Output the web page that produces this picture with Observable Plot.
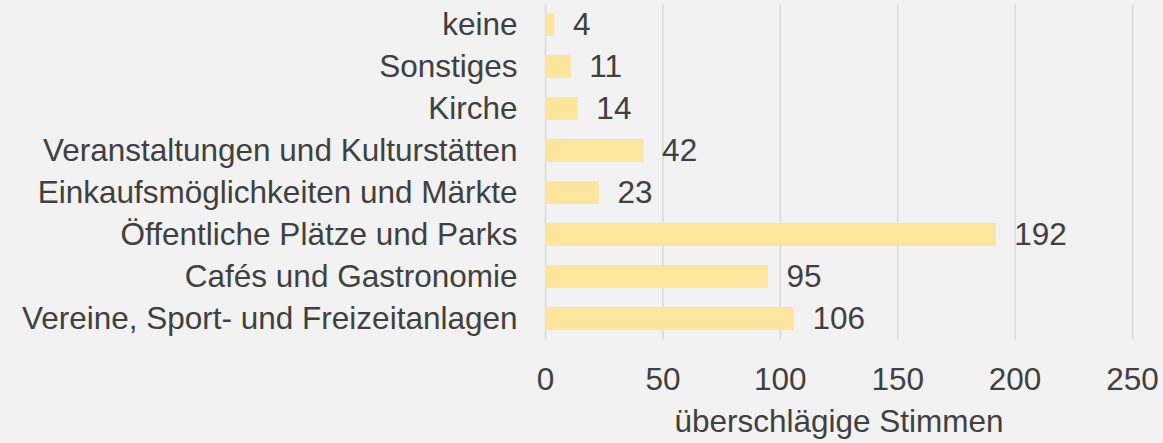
<!DOCTYPE html>
<html><head><meta charset="utf-8">
<script src="https://cdn.jsdelivr.net/npm/d3@7"></script>
<script src="https://cdn.jsdelivr.net/npm/@observablehq/plot@0.6"></script>
<style>
html,body{margin:0;padding:0;background:#f2f2f2;}
#chart svg{display:block;}
#chart svg, #chart svg text{font-family:"Liberation Sans", Arimo, Arial, sans-serif !important;}
</style>
</head><body><div id="chart"></div>
<script>
const categories = ["keine","Sonstiges","Kirche","Veranstaltungen und Kulturstätten","Einkaufsmöglichkeiten und Märkte","Öffentliche Plätze und Parks","Cafés und Gastronomie","Vereine, Sport- und Freizeitanlagen"];
const votes = [4, 11, 14, 42, 23, 192, 95, 106];
const xTicks = [0, 50, 100, 150, 200, 250];
const xLabel = "überschlägige Stimmen";

const data = categories.map((c, i) => ({category: c, value: votes[i]}));
const FS = 31.5;

const chart = Plot.plot({
  width: 1163,
  height: 443,
  marginLeft: 545,
  marginRight: 31,
  marginTop: 4,
  marginBottom: 103,
  style: {background: "#f2f2f2", fontSize: FS + "px", color: "#404040"},
  x: {domain: [0, 250], ticks: xTicks, grid: false},
  y: {domain: categories, paddingInner: 0.45, paddingOuter: 0.225, align: 0.5},
  marks: [
    Plot.gridX(xTicks, {stroke: "#d9d9d9", strokeOpacity: 1, strokeWidth: 1.5}),
    Plot.barX(data, {y: "category", x: "value", fill: "#fde59d"}),
    Plot.text(data, {y: "category", x: "value", text: d => String(d.value), textAnchor: "start", dx: 18, fill: "#404040", fontSize: FS}),
    Plot.axisY({tickSize: 0, tickPadding: 28, label: null, fontSize: FS, fill: "#404040"}),
    Plot.axisX({ticks: xTicks, tickSize: 0, tickPadding: 27, label: xLabel, labelAnchor: "center", labelArrow: "none", labelOffset: 91, fontSize: FS, fill: "#404040"})
  ]
});
document.getElementById("chart").appendChild(chart);
</script>
</body></html>
